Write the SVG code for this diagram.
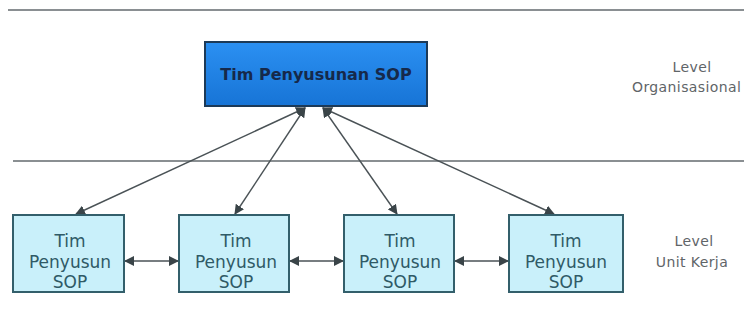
<svg xmlns="http://www.w3.org/2000/svg" width="744" height="325" viewBox="0 0 744 325">
  <defs>
    <linearGradient id="topFill" x1="0" y1="0" x2="0" y2="1">
      <stop offset="0" stop-color="#2b90f2"/>
      <stop offset="1" stop-color="#1774d6"/>
    </linearGradient>
    <marker id="arrow" viewBox="0 0 10 10" refX="9" refY="5" markerWidth="10" markerHeight="10" markerUnits="userSpaceOnUse" orient="auto-start-reverse">
      <path d="M0,0 L10,5 L0,10 z" fill="#3a4448"/>
    </marker>
  </defs>
  <style>
    .rule { stroke: #8a8f92; stroke-width: 2; }
    .link { stroke: #4a5256; stroke-width: 1.4; fill: none; marker-start: url(#arrow); marker-end: url(#arrow); }
    .unit rect { fill: #c9f0fa; stroke: #335f6b; stroke-width: 2; }
    .unit text { font-family: "DejaVu Sans", "Open Sans", sans-serif; font-size: 17px; fill: #2f5a66; text-anchor: middle; }
    .lvl { font-family: "DejaVu Sans", "Open Sans", sans-serif; font-size: 14px; letter-spacing: 0.4px; fill: #5f6568; }
  </style>
  <rect width="744" height="325" fill="#ffffff"/>

  <!-- level dividers -->
  <line class="rule" x1="8" y1="10" x2="744" y2="10"/>
  <line class="rule" x1="13" y1="161" x2="744" y2="161"/>

  <!-- level labels -->
  <text class="lvl" x="692" y="72" text-anchor="middle">Level</text>
  <text class="lvl" x="632" y="92">Organisasional</text>
  <text class="lvl" x="694" y="246" text-anchor="middle">Level</text>
  <text class="lvl" x="692" y="267" text-anchor="middle">Unit Kerja</text>

  <!-- connectors -->
  <g id="connectors">
    <line class="link" x1="305" y1="108" x2="76" y2="214"/>
    <line class="link" x1="305" y1="108" x2="235" y2="214"/>
    <line class="link" x1="323" y1="108" x2="397" y2="214"/>
    <line class="link" x1="323" y1="108" x2="554" y2="214"/>
    <line class="link" x1="125" y1="261" x2="178" y2="261"/>
    <line class="link" x1="290" y1="261" x2="343" y2="261"/>
    <line class="link" x1="455" y1="261" x2="508" y2="261"/>
  </g>

  <!-- organisational node -->
  <g id="tim-penyusunan">
    <rect x="205" y="42" width="222" height="64" fill="url(#topFill)" stroke="#1c3a58" stroke-width="2"/>
    <text x="316" y="80" font-family="'DejaVu Sans', 'Open Sans', sans-serif" font-size="16" font-weight="bold" fill="#16294a" text-anchor="middle">Tim Penyusunan SOP</text>
  </g>

  <!-- unit nodes -->
  <g id="unit-1" class="unit">
    <rect x="13" y="215" width="111" height="77"/>
    <text x="70" y="247">Tim</text>
    <text x="70" y="268">Penyusun</text>
    <text x="70" y="288">SOP</text>
  </g>
  <g id="unit-2" class="unit">
    <rect x="179" y="215" width="110" height="77"/>
    <text x="236" y="247">Tim</text>
    <text x="236" y="268">Penyusun</text>
    <text x="236" y="288">SOP</text>
  </g>
  <g id="unit-3" class="unit">
    <rect x="344" y="215" width="110" height="77"/>
    <text x="400" y="247">Tim</text>
    <text x="400" y="268">Penyusun</text>
    <text x="400" y="288">SOP</text>
  </g>
  <g id="unit-4" class="unit">
    <rect x="509" y="215" width="114" height="77"/>
    <text x="566" y="247">Tim</text>
    <text x="566" y="268">Penyusun</text>
    <text x="566" y="288">SOP</text>
  </g>
</svg>
